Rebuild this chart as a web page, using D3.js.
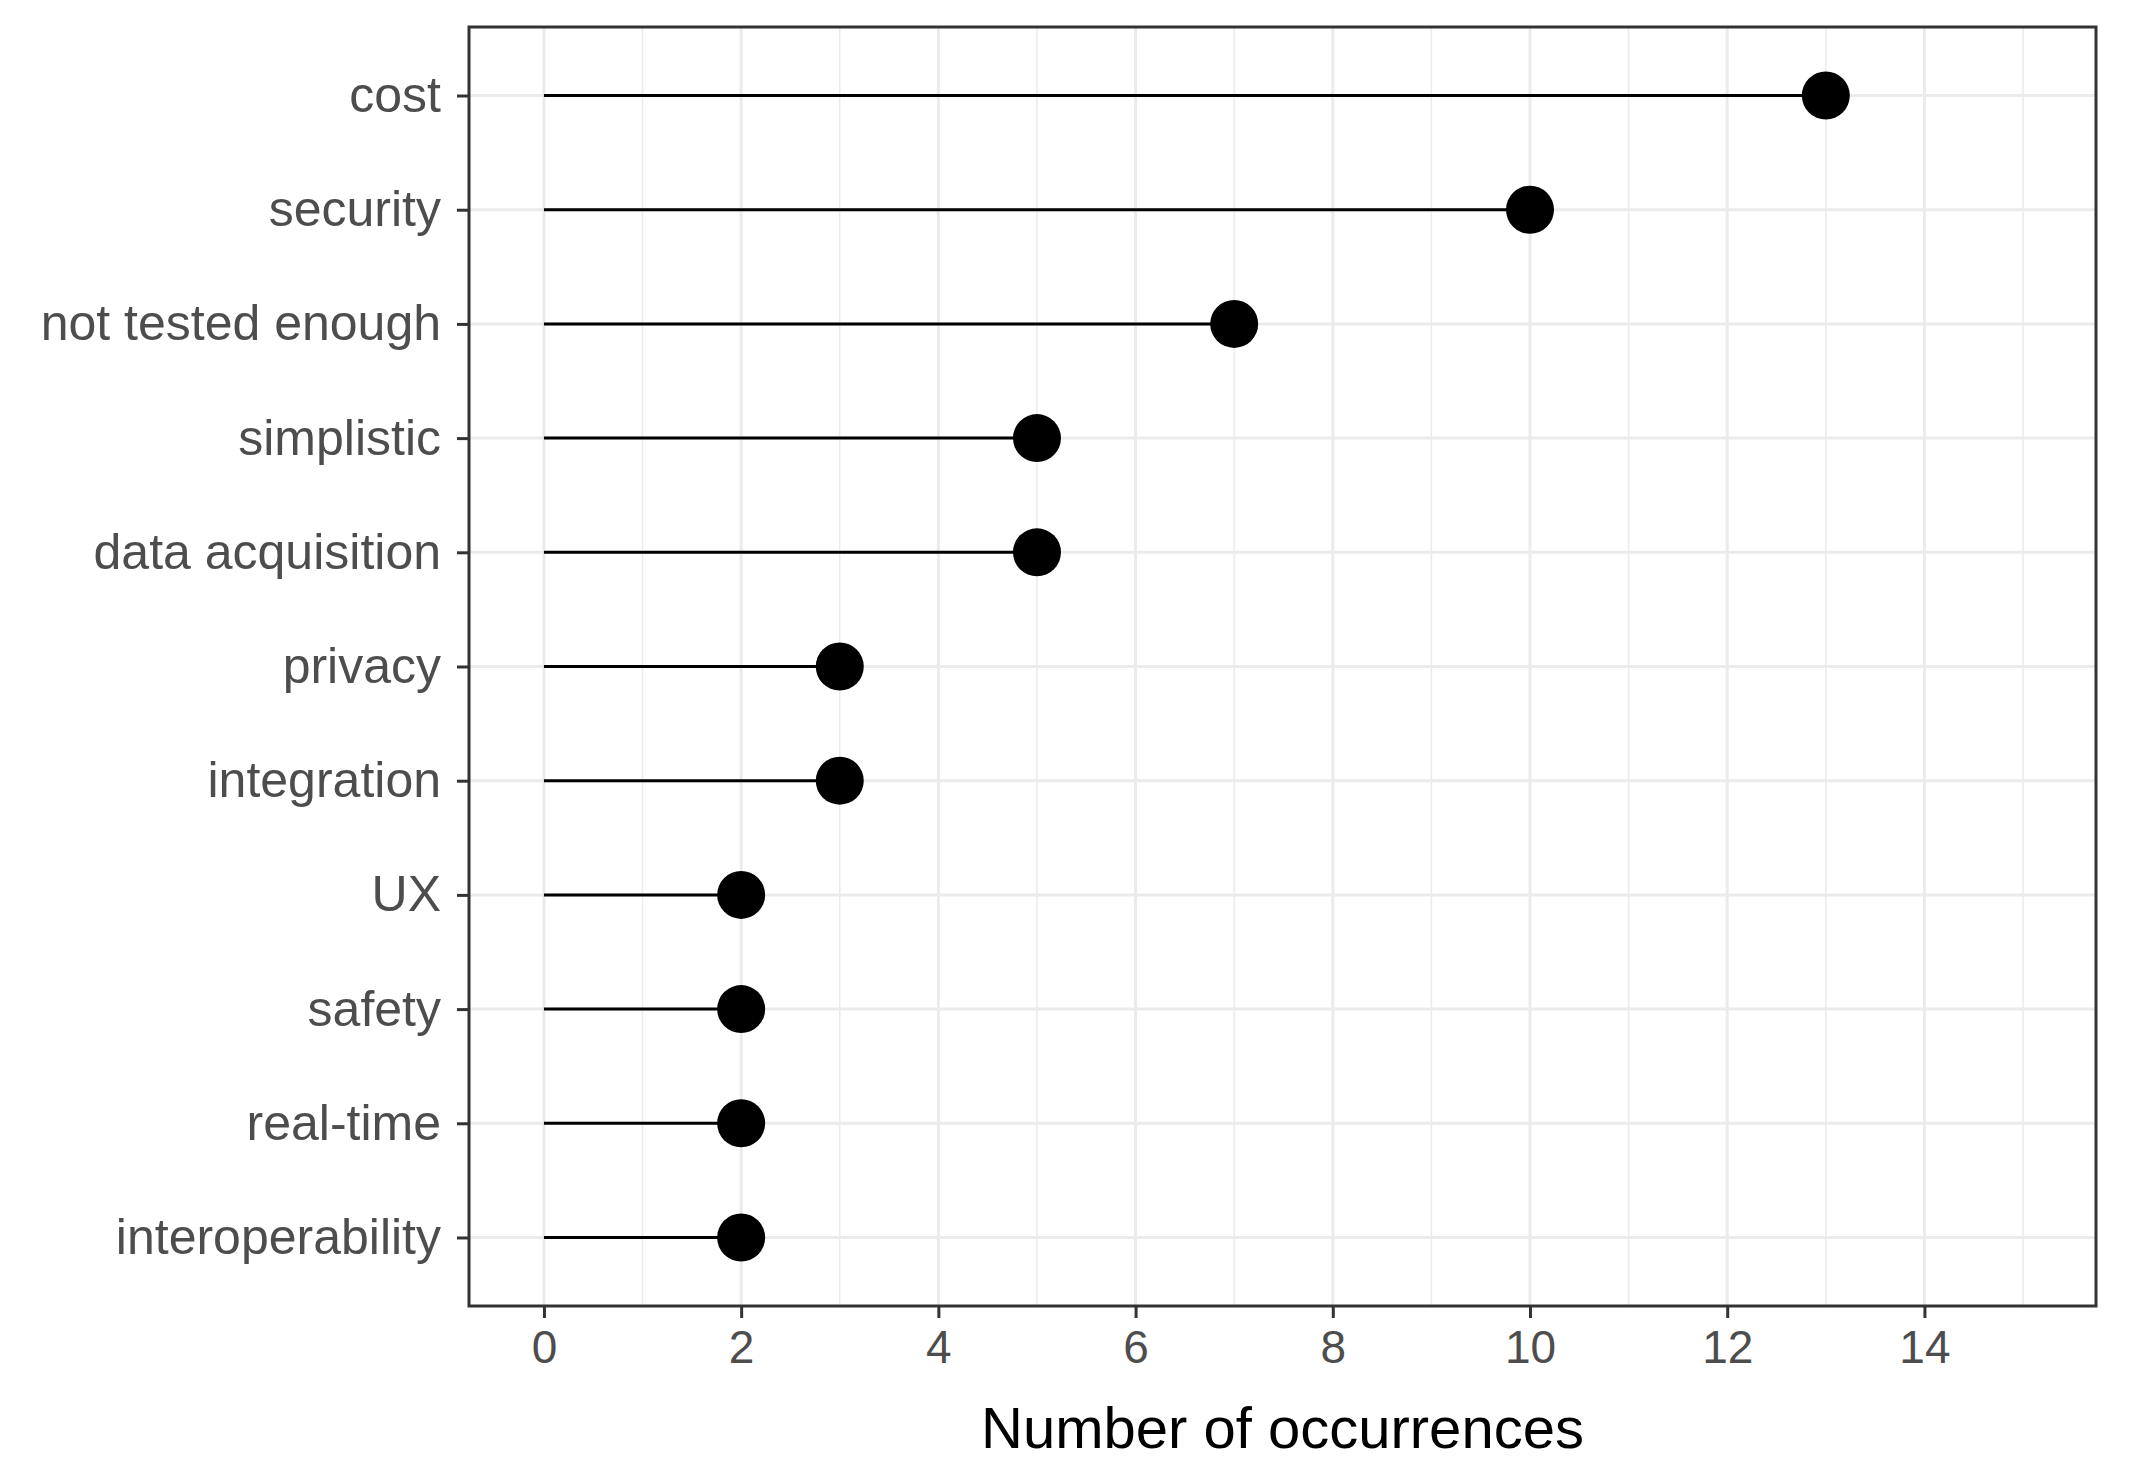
<!DOCTYPE html><html><head><meta charset="utf-8"><script src="https://cdn.jsdelivr.net/npm/d3@7"></script>
<style>body{margin:0;background:#fff}text{font-family:"Liberation Sans",Arial,sans-serif}</style></head><body><svg id="c" width="2133" height="1467"></svg><script>
const categories=["cost","security","not tested enough","simplistic","data acquisition","privacy","integration","UX","safety","real-time","interoperability"];
const values=[13,10,7,5,5,3,3,2,2,2,2];
const xTicks=[0,2,4,6,8,10,12,14];
const minorTicks=[1,3,5,7,9,11,13,15];
const svg=d3.select("#c");
const L=469,R=2096,T=27,B=1306;
const x=d3.scaleLinear().domain([-0.76,15.74]).range([L,R]);
const y=d3.scalePoint().domain(categories).range([T,B]).padding(0.6);
const g=svg.append("g");
g.selectAll(".mn").data(minorTicks).join("line").attr("x1",d=>x(d)).attr("x2",d=>x(d)).attr("y1",T).attr("y2",B).attr("stroke","#ebebeb").attr("stroke-width",1.5);
g.selectAll(".mj").data(xTicks).join("line").attr("x1",d=>x(d)).attr("x2",d=>x(d)).attr("y1",T).attr("y2",B).attr("stroke","#ebebeb").attr("stroke-width",3);
g.selectAll(".hy").data(categories).join("line").attr("x1",L).attr("x2",R).attr("y1",d=>y(d)).attr("y2",d=>y(d)).attr("stroke","#ebebeb").attr("stroke-width",3);
g.selectAll(".seg").data(categories).join("line").attr("x1",x(0)).attr("x2",(d,i)=>x(values[i])).attr("y1",d=>y(d)).attr("y2",d=>y(d)).attr("stroke","#000").attr("stroke-width",3);
g.selectAll(".pt").data(categories).join("circle").attr("cx",(d,i)=>x(values[i])).attr("cy",d=>y(d)).attr("r",24).attr("fill","#000");
g.append("rect").attr("x",L).attr("y",T).attr("width",R-L).attr("height",B-T).attr("fill","none").attr("stroke","#333").attr("stroke-width",3);
const xa=svg.append("g").attr("transform",`translate(0,${B})`).call(d3.axisBottom(x).tickValues(xTicks).tickSize(12).tickPadding(12).tickSizeOuter(0));
xa.select(".domain").remove();
xa.selectAll("line").attr("stroke","#333").attr("stroke-width",3);
xa.selectAll("text").attr("font-size",46).attr("fill","#4d4d4d").attr("font-family","Liberation Sans, Arial, sans-serif");
const ya=svg.append("g").attr("transform",`translate(${L},0)`).call(d3.axisLeft(y).tickSize(12).tickPadding(16));
ya.select(".domain").remove();
ya.selectAll("line").attr("stroke","#333").attr("stroke-width",3);
ya.selectAll("text").attr("font-size",50).attr("fill","#4d4d4d").attr("font-family","Liberation Sans, Arial, sans-serif");
svg.append("text").attr("x",(L+R)/2).attr("y",1448).attr("text-anchor","middle").attr("font-size",58).attr("fill","#000").text("Number of occurrences");
</script></body></html>
